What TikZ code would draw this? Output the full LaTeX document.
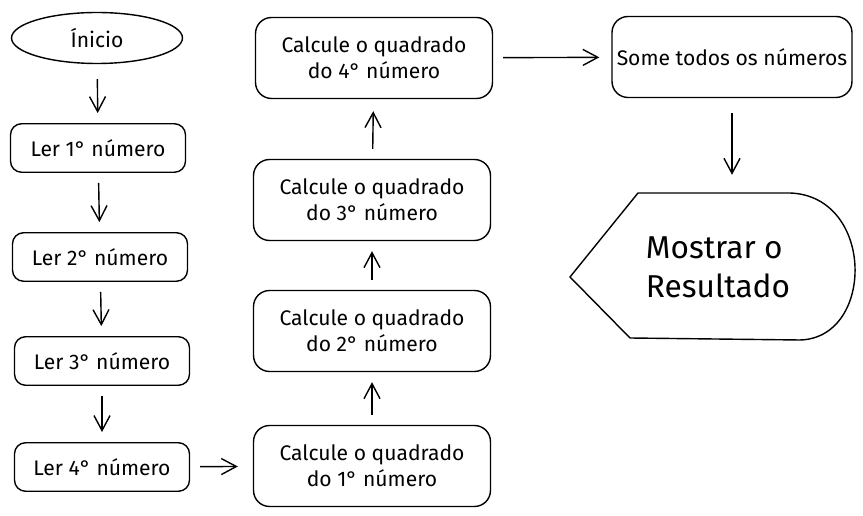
\documentclass[tikz,border=0pt]{standalone}
\usepackage{fontspec}
\setmainfont{Fira Sans}
\usetikzlibrary{shapes.geometric,arrows.meta}

\begin{document}
\begin{tikzpicture}[
    x=0.02cm, y=-0.02cm,
    base/.style={draw, line width=0.8pt, align=center, font=\fontsize{12}{15}\selectfont, inner sep=0pt},
    start/.style={base, ellipse, minimum width=3.42cm, minimum height=1.02cm},
    readbox/.style={base, rounded corners=0.22cm, minimum width=3.5cm, minimum height=0.97cm},
    calcbox/.style={base, rounded corners=0.32cm, minimum width=4.74cm, minimum height=1.62cm},
    arr/.style={-{Straight Barb[length=3mm,width=3.2mm]}, line width=0.8pt, shorten <=0.2cm, shorten >=0.2cm}
]
    \useasboundingbox (0,0) rectangle (863,516);

    % Reading
    \node[start] (inicio) at (97,38) {Ínicio};
    \node[readbox] (ler1) at (98,148) {Ler 1° número};
    \node[readbox] (ler2) at (100,257) {Ler 2° número};
    \node[readbox] (ler3) at (102,361) {Ler 3° número};
    \node[readbox] (ler4) at (102,467) {Ler 4° número};

    % Squares
    \node[calcbox] (calc1) at (372,466) {Calcule o quadrado\\do 1° número};
    \node[calcbox] (calc2) at (372,331) {Calcule o quadrado\\do 2° número};
    \node[calcbox] (calc3) at (372,200) {Calcule o quadrado\\do 3° número};
    \node[calcbox] (calc4) at (374,58) {Calcule o quadrado\\do 4° número};

    % Sum and output
    \node[calcbox, minimum width=4.8cm] (soma) at (732,57) {Some todos os números};
    \node[base, draw=none, align=left, font=\fontsize{18}{22}\selectfont,
          minimum width=5.7cm, minimum height=2.94cm] (res) at (718,267) {Mostrar o\\Resultado};
    \draw[line width=0.8pt] (570,277) -- (638,193) -- (790,193)
        .. controls (875,196) and (875,338) .. (800,340) -- (630,338) -- cycle;

    % Connections
    \draw[arr, shorten <=0.3cm] (inicio) -- (ler1);
    \draw[arr] (ler1) -- (ler2);
    \draw[arr] (ler2) -- (ler3);
    \draw[arr] (ler3) -- (ler4);
    \draw[arr, shorten >=0.3cm] (ler4) -- (calc1);
    \draw[arr] (calc1) -- (calc2);
    \draw[arr] (calc2) -- (calc3);
    \draw[arr, shorten >=0.24cm] (calc3) -- (calc4);
    \draw[arr, shorten >=0.24cm] (calc4) -- (soma);
    \draw[arr, shorten <=0.3cm, shorten >=0.36cm] (soma.south) -- (soma.south |- res.north);
\end{tikzpicture}
\end{document}
